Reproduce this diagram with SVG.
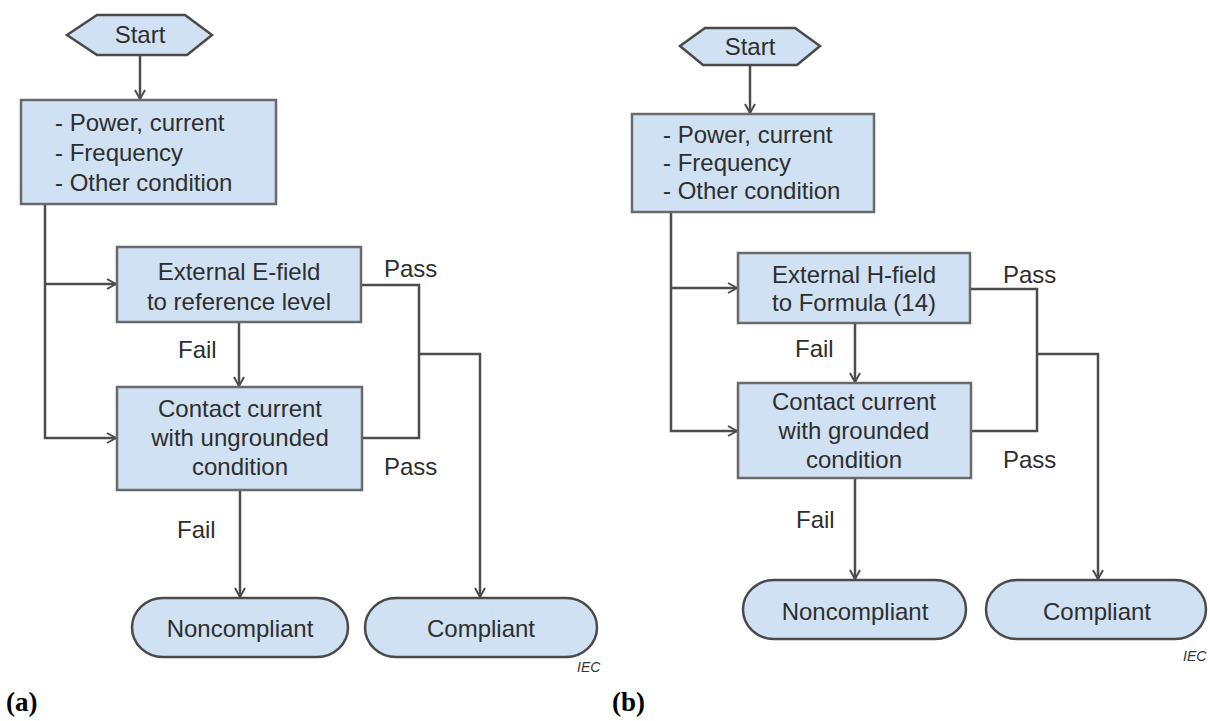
<svg xmlns="http://www.w3.org/2000/svg" width="1210" height="721" viewBox="0 0 1210 721">
<style>
.bx{fill:#cfe1f2;stroke:#6a6a6a;stroke-width:2.5}
.term{fill:#cfe1f2;stroke:#4a4a4a;stroke-width:2.5}
.t{font-family:"Liberation Sans",Arial,sans-serif;font-size:24px;fill:#2e2e2e}
.c{text-anchor:middle}
.ln{fill:none;stroke:#4d4d4d;stroke-width:2.5}
.iec{font-family:"Liberation Sans",Arial,sans-serif;font-size:14px;font-style:italic;fill:#333}
.cap{font-family:"Liberation Serif","Times New Roman",serif;font-size:27px;font-weight:bold;fill:#000}
</style>
<defs>
<marker id="ah" markerWidth="12" markerHeight="12" refX="10" refY="6" orient="auto" markerUnits="userSpaceOnUse">
<path d="M1,1 L10,6 L1,11" fill="none" stroke="#4d4d4d" stroke-width="2"/>
</marker>
</defs>
<rect width="1210" height="721" fill="#fff"/>

<g id="connectors">
<!-- panel a -->
<path class="ln" d="M140,55 V99" marker-end="url(#ah)"/>
<path class="ln" d="M45,204 V438 H116" marker-end="url(#ah)"/>
<path class="ln" d="M45,284 H116" marker-end="url(#ah)"/>
<path class="ln" d="M239,322 V386" marker-end="url(#ah)"/>
<path class="ln" d="M361,285 H419 V438 H362"/>
<path class="ln" d="M419,354 H480 V597" marker-end="url(#ah)"/>
<path class="ln" d="M240,490 V597" marker-end="url(#ah)"/>
<!-- panel b -->
<path class="ln" d="M750,65 V113" marker-end="url(#ah)"/>
<path class="ln" d="M671,212 V431 H737" marker-end="url(#ah)"/>
<path class="ln" d="M671,288 H737" marker-end="url(#ah)"/>
<path class="ln" d="M855,323 V382" marker-end="url(#ah)"/>
<path class="ln" d="M970,289 H1037 V431 H971"/>
<path class="ln" d="M1037,354 H1098 V579" marker-end="url(#ah)"/>
<path class="ln" d="M855,478 V579" marker-end="url(#ah)"/>
</g>

<g id="a-start">
<polygon class="term" points="67,35 97,15 185,15 212,35 187,55 97,55"/>
<text class="t c" x="140" y="43">Start</text>
</g>
<g id="a-conditions">
<rect class="bx" x="21" y="100" width="255" height="104"/>
<text class="t" x="55" y="131">- Power, current</text>
<text class="t" x="55" y="161">- Frequency</text>
<text class="t" x="55" y="191">- Other condition</text>
</g>
<g id="a-efield">
<rect class="bx" x="117" y="247" width="244" height="75"/>
<text class="t c" x="239" y="280">External E-field</text>
<text class="t c" x="239" y="310">to reference level</text>
</g>
<g id="a-contact">
<rect class="bx" x="117" y="387" width="245" height="103"/>
<text class="t c" x="240" y="417">Contact current</text>
<text class="t c" x="240" y="446">with ungrounded</text>
<text class="t c" x="240" y="475">condition</text>
</g>
<g id="a-noncompliant">
<rect class="term" x="132" y="598" width="216" height="59" rx="31" ry="29.5"/>
<text class="t c" x="240" y="637">Noncompliant</text>
</g>
<g id="a-compliant">
<rect class="term" x="365" y="598" width="232" height="59" rx="31" ry="29.5"/>
<text class="t c" x="481" y="637">Compliant</text>
</g>
<g id="a-labels">
<text class="t" x="384" y="277">Pass</text>
<text class="t" x="384" y="475">Pass</text>
<text class="t" x="178" y="358">Fail</text>
<text class="t" x="177" y="538">Fail</text>
<text class="iec" x="577" y="672">IEC</text>
<text class="cap" x="6" y="711">(a)</text>
</g>

<g id="b-start">
<polygon class="term" points="680,46 705,28 795,28 820,46 797,65 703,65"/>
<text class="t c" x="750" y="55">Start</text>
</g>
<g id="b-conditions">
<rect class="bx" x="632" y="114" width="242" height="98"/>
<text class="t" x="663" y="143">- Power, current</text>
<text class="t" x="663" y="171">- Frequency</text>
<text class="t" x="663" y="199">- Other condition</text>
</g>
<g id="b-hfield">
<rect class="bx" x="738" y="253" width="232" height="70"/>
<text class="t c" x="854" y="283">External H-field</text>
<text class="t c" x="854" y="311">to Formula (14)</text>
</g>
<g id="b-contact">
<rect class="bx" x="738" y="383" width="233" height="95"/>
<text class="t c" x="854" y="410">Contact current</text>
<text class="t c" x="854" y="439">with grounded</text>
<text class="t c" x="854" y="468">condition</text>
</g>
<g id="b-noncompliant">
<rect class="term" x="743" y="580" width="223" height="59" rx="31" ry="29.5"/>
<text class="t c" x="855" y="620">Noncompliant</text>
</g>
<g id="b-compliant">
<rect class="term" x="986" y="580" width="220" height="59" rx="31" ry="29.5"/>
<text class="t c" x="1097" y="620">Compliant</text>
</g>
<g id="b-labels">
<text class="t" x="1003" y="283">Pass</text>
<text class="t" x="1003" y="468">Pass</text>
<text class="t" x="795" y="357">Fail</text>
<text class="t" x="796" y="528">Fail</text>
<text class="iec" x="1183" y="661">IEC</text>
<text class="cap" x="612" y="711">(b)</text>
</g>
</svg>
